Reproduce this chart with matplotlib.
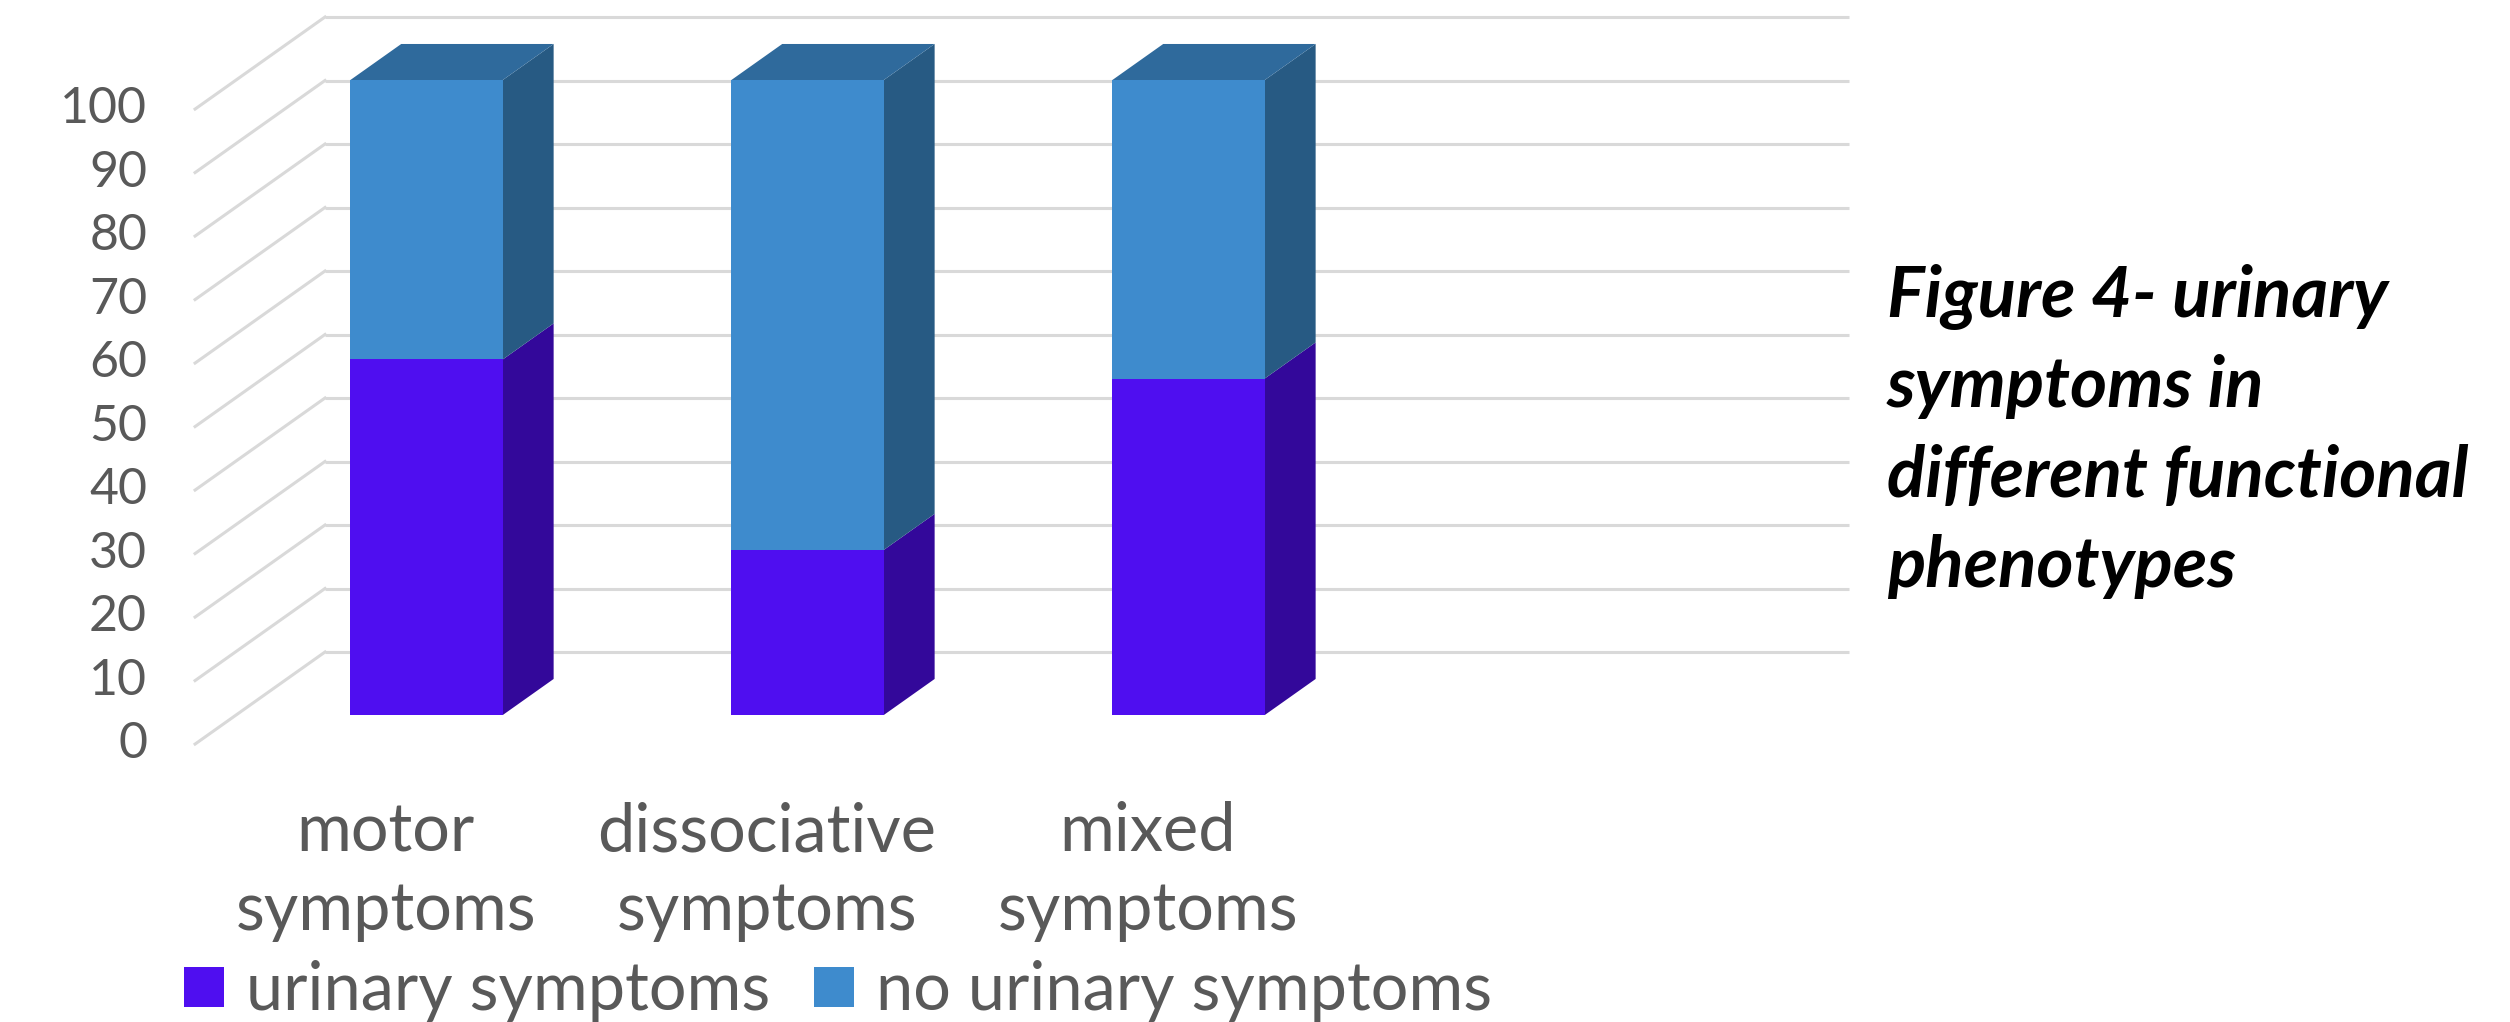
import numpy as np
import matplotlib.pyplot as plt
from matplotlib.patches import Polygon, Patch

categories = ["motor\nsymptoms", "dissociative\nsymptoms", "mixed\nsymptoms"]
urinary = [56, 26, 53]
no_urinary = [44, 74, 47]
series_names = ["urinary symptoms", "no urinary symptoms"]
y_ticks = np.arange(0, 101, 10)
title_lines = ["Figure 4- urinary", "symptoms in", "different functional", "phenotypes"]
n_slots = 4  # the chart keeps one empty category slot on the right

front_cols = ["#4F0EF0", "#3E8BCD"]
side_cols = ["#33089A", "#275A83"]
top_col = "#2F6A9C"
grid_col = "#D9D9D9"
text_col = "#595959"

# pseudo-3D geometry: back wall runs x in [0, n_slots], depth shifts points by (-DX, -DY)
DX, DY = 0.341, 14.5
t_back, t_front = 0.293, 0.685
bar_w = 0.40

plt.rcParams["font.family"] = "Lato"

fig = plt.figure(figsize=(25.1, 10.22), dpi=100)
ax = fig.add_axes([0, 0, 1, 1])
px_x, px_y = 381.0, 6.35
ax.set_xlim(-325 / px_x, (2510 - 325) / px_x)
ax.set_ylim((652 - 1022) / px_y, 652 / px_y)
ax.axis("off")


def ypix(p):
    # pixel row (from top) -> data y
    return (652 - p) / px_y


# back wall gridlines + side wall diagonals
for v in y_ticks:
    ax.plot([0, n_slots], [v, v], color=grid_col, lw=2.2, zorder=1, solid_capstyle="butt")
    ax.plot([-DX, 0], [v - DY, v], color=grid_col, lw=2.2, zorder=1)
    ax.text(-0.467, v - DY, str(v), ha="right", va="center", fontsize=36, color=text_col)


def shift(x, y, t):
    return x - t * DX, y - t * DY


def box(ax, xc, y0, y1, fc, sc, with_top):
    xl, xr = xc - bar_w / 2, xc + bar_w / 2
    # right side face
    side = [shift(xr, y0, t_front), shift(xr, y0, t_back),
            shift(xr, y1, t_back), shift(xr, y1, t_front)]
    ax.add_patch(Polygon(side, closed=True, fc=sc, ec="none", zorder=3))
    if with_top:
        top = [shift(xl, y1, t_front), shift(xl, y1, t_back),
               shift(xr, y1, t_back), shift(xr, y1, t_front)]
        ax.add_patch(Polygon(top, closed=True, fc=top_col, ec="none", zorder=3))
    front = [shift(xl, y0, t_front), shift(xr, y0, t_front),
             shift(xr, y1, t_front), shift(xl, y1, t_front)]
    ax.add_patch(Polygon(front, closed=True, fc=fc, ec="none", zorder=4))


for i, cat in enumerate(categories):
    xc = i + 0.5
    box(ax, xc, 0, urinary[i], front_cols[0], side_cols[0], False)
    box(ax, xc, urinary[i], urinary[i] + no_urinary[i], front_cols[1], side_cols[1], True)
    for j, line in enumerate(cat.split("\n")):
        ax.text(xc - DX, ypix(851 + 79 * j), line, ha="center", va="baseline",
                fontsize=48, color=text_col)

handles = [Patch(fc=c, ec="none") for c in front_cols]
ax.legend(handles, series_names, loc="lower left", bbox_to_anchor=(0.060, -0.033),
          ncol=2, frameon=False, fontsize=48, labelcolor=text_col, borderpad=0,
          handlelength=0.6, handleheight=0.55, handletextpad=0.33, columnspacing=0.66)

for j, line in enumerate(title_lines):
    ax.text(4.1, ypix(317 + 90 * j), line, ha="left", va="baseline",
            fontsize=51, fontweight="bold", fontstyle="italic", color="black")

fig.savefig("out.png", dpi=100)
